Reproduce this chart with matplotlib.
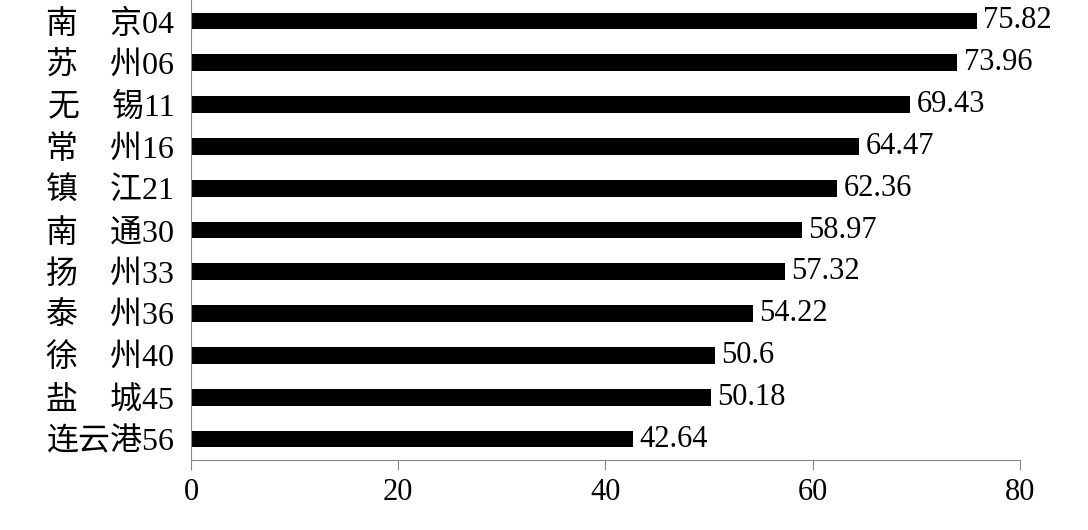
import matplotlib
matplotlib.use('Agg')
import matplotlib.pyplot as plt

labels = ['南\u3000京04', '苏\u3000州06', '无\u3000锡11', '常\u3000州16', '镇\u3000江21',
          '南\u3000通30', '扬\u3000州33', '泰\u3000州36', '徐\u3000州40', '盐\u3000城45', '连云港56']
values = [75.82, 73.96, 69.43, 64.47, 62.36, 58.97, 57.32, 54.22, 50.6, 50.18, 42.64]
value_text = ['75.82', '73.96', '69.43', '64.47', '62.36', '58.97', '57.32', '54.22', '50.6', '50.18', '42.64']

plt.rcParams['font.family'] = ['Liberation Serif', 'Noto Sans CJK SC']

fig = plt.figure(figsize=(10.88, 5.30), dpi=100)
ax = fig.add_axes([0.1755, 0.132, 0.762, 0.868])

y = list(range(len(values)))[::-1]
ax.barh(y, values, height=0.4, color='black')
for yi, v, t in zip(y, values, value_text):
    ax.text(v + 0.6, yi, t, va='center', ha='left', fontsize=22)

ax.set_xlim(0, 80)
ax.set_ylim(-0.5, 10.5)
ax.set_xticks([0, 20, 40, 60, 80])
ax.tick_params(axis='x', labelsize=22, direction='out', length=7, color='#888888', pad=6)
ax.set_yticks(y)
ax.set_yticklabels(labels, fontsize=23)
ax.tick_params(axis='y', length=0, pad=12)
for s in ['top', 'right']:
    ax.spines[s].set_visible(False)
for s in ['left', 'bottom']:
    ax.spines[s].set_color('#888888')

fig.savefig('out.png', dpi=100)
